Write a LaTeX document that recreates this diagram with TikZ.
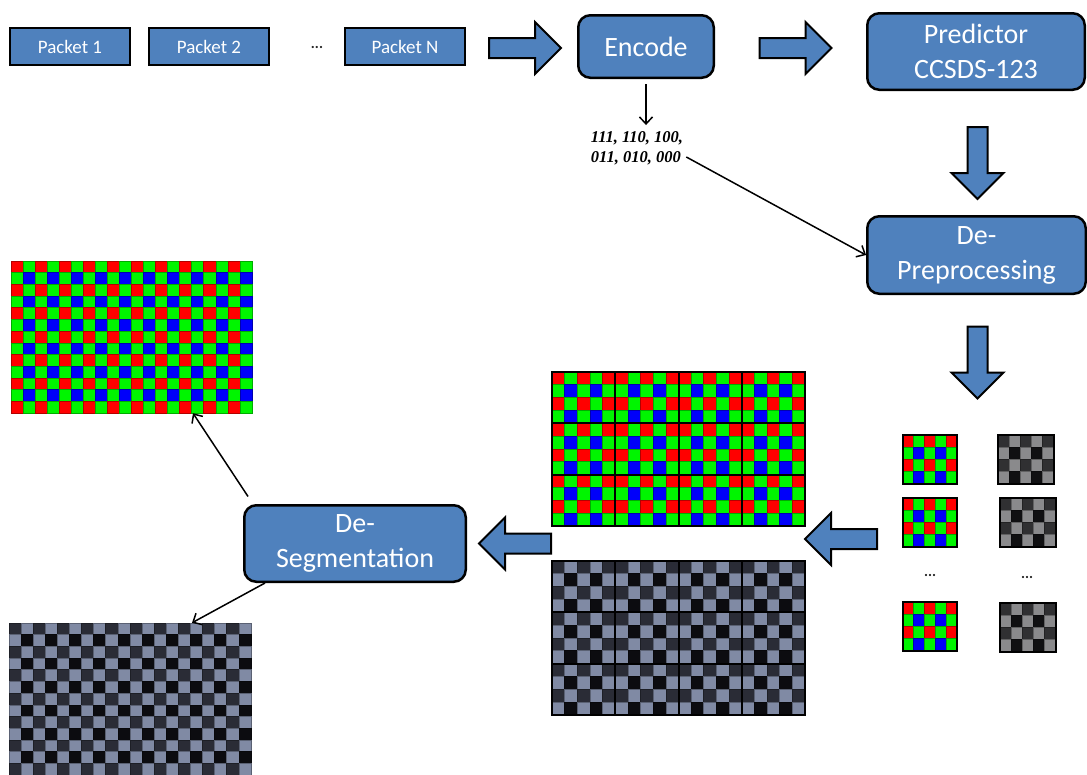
\documentclass[tikz,border=0pt]{standalone}
\usepackage{fontspec}
\setmainfont{Carlito}
\newfontfamily\codefont{Liberation Serif}
\usepackage{tikz}
\usetikzlibrary{arrows.meta,shapes,positioning}
\usepackage{xcolor}
\definecolor{dfblue}{RGB}{79,129,189}
% sensor colours: A = even/even, B = mixed, C = odd/odd
\definecolor{rgbA}{RGB}{255,0,0}
\definecolor{rgbB}{RGB}{0,245,0}
\definecolor{rgbC}{RGB}{0,0,250}
\definecolor{greyA}{RGB}{42,44,54}
\definecolor{greyB}{RGB}{128,138,164}
\definecolor{greyC}{RGB}{12,12,16}
\definecolor{sgreyA}{RGB}{48,48,50}
\definecolor{sgreyB}{RGB}{138,138,140}
\definecolor{sgreyC}{RGB}{16,16,18}
\tikzstyle{arrow} = [line width=1.5pt,-{Straight Barb[length=7pt,width=13pt]}]
\tikzstyle{stage} = [rectangle, rounded corners=12pt, draw=black, line width=2.5pt, fill=dfblue, text=white, align=center, font=\fontsize{28}{35}\selectfont]
\tikzstyle{packet} = [rectangle, draw=black, line width=2pt, fill=dfblue, text=white, minimum width=120pt, minimum height=37pt, font=\fontsize{19}{22}\selectfont]
\tikzstyle{blockarrow} = [single arrow, draw=black, line width=2pt, fill=dfblue, minimum height=72pt, minimum width=50pt, single arrow head extend=16pt, inner sep=9pt]
\tikzstyle{dots} = [font=\bfseries\fontsize{15}{15}\selectfont, text=black!85]
\tikzstyle{frame} = [inner sep=0pt]

% bayer mosaic: x, y, columns, rows, cell width, cell height, palette
\newcommand{\mosaic}[7]{%
  \foreach \i in {1,...,#3}{
    \foreach \j in {1,...,#4}{
      \pgfmathtruncatemacro{\cellkind}{mod(\i,2)+2*mod(\j,2)}
      \ifcase\cellkind \def\cellcol{#7C}\or \def\cellcol{#7B}\or \def\cellcol{#7B}\or \def\cellcol{#7A}\fi
      \filldraw[fill=\cellcol, draw=\cellcol!70!black, line width=0.7pt]
        ({#1+(\i-1)*#5},{#2+(\j-1)*#6}) rectangle ++(#5,#6);
    }}}

\begin{document}
\begin{tikzpicture}[x=1pt, y=-1pt]
\useasboundingbox (0,0) rectangle (1087,774);

% Packets
\node (p1) [packet] at (70,46.5) {Packet 1};
\node (p2) [packet] at (209,46.5) {Packet 2};
\node (pdots) [dots] at (317,47) {...};
\node (pn) [packet] at (405,46.5) {Packet N};

% Stages
\node (encode) [stage, minimum width=135.5pt, minimum height=62.5pt] at (646,46.5) {Encode};
\node (pred) [stage, minimum width=217.5pt, minimum height=76.5pt] at (976,51.5) {Predictor\\CCSDS-123};
\node (depre) [stage, minimum width=218.5pt, minimum height=77.5pt] at (976.5,255) {De-\\Preprocessing};
\node (deseg) [stage, minimum width=221.5pt, minimum height=76.5pt] at (355,543.5) {De-\\Segmentation};

% Block arrows
\node (a1) [blockarrow] at (520,48) {};
\node (a2) [blockarrow] at (790.5,48) {};
\node (a3) [blockarrow, shape border rotate=270] at (977.5,158) {};
\node (a4) [blockarrow, shape border rotate=270] at (977.5,357.5) {};
\node (a5) [blockarrow, shape border rotate=180] at (846,539) {};
\node (a6) [blockarrow, shape border rotate=180] at (520,543.5) {};

% Codes
\node (codes) [align=left, inner sep=0pt, font=\codefont\bfseries\itshape\fontsize{16.5}{20}\selectfont] at (637,148) {111, 110, 100,\\011, 010, 000};

% Segments, colour and grey
\foreach \tx in {0,...,3}
  \foreach \ty in {0,...,2}{
    \mosaic{552+\tx*63.25}{372+\ty*51.33}{5}{4}{12.65}{12.83}{rgb}
    \mosaic{552+\tx*63.25}{561+\ty*51.33}{5}{4}{12.65}{12.83}{grey}
  }
\foreach \y in {372,561}{
  \draw[black, line width=1.5pt] (552,\y) rectangle (805,\y+154);
  \foreach \tx in {1,2,3}
    \draw[black, line width=2pt] (552+\tx*63.25,\y) -- (552+\tx*63.25,\y+154);
  \foreach \ty in {1,2}
    \draw[black, line width=2pt] (552,\y+\ty*51.33) -- (805,\y+\ty*51.33);
}

% Small segments
\foreach \y in {435,498,602}{
  \mosaic{903}{\y}{5}{4}{10.8}{12.25}{rgb}
  \draw[black, line width=1.5pt] (903,\y) rectangle ++(54,49);
}
\foreach \x/\y in {998/435,1000/498,1000/603}{
  \mosaic{\x}{\y}{5}{4}{11.2}{12.25}{sgrey}
  \draw[black, line width=1.5pt] (\x,\y) rectangle ++(56,49);
}
\node (sdots1) [dots] at (930,575) {...};
\node (sdots2) [dots] at (1027,577) {...};

% Output frames
\mosaic{11}{261}{20}{13}{12.05}{11.7}{rgb}
\mosaic{9}{623}{20}{13}{12.1}{11.7}{grey}
\node (rgbimg) [frame, minimum width=241pt, minimum height=152pt] at (131.5,337) {};
\node (greyimg) [frame, minimum width=242pt, minimum height=152pt] at (130,699) {};

% Connections
\draw[arrow, shorten <=5pt, shorten >=6pt] (encode.south) -- (encode.south |- codes.north);
\draw[arrow] ([shift={(3pt,8pt)}]codes.south east) -- (depre.west);
\draw[arrow, shorten <=9pt] ([xshift=10pt]deseg.north west) -- ([xshift=61.5pt]rgbimg.south);
\draw[arrow] ([xshift=22pt]deseg.south west) -- ([xshift=62pt]greyimg.north);
\end{tikzpicture}
\end{document}
